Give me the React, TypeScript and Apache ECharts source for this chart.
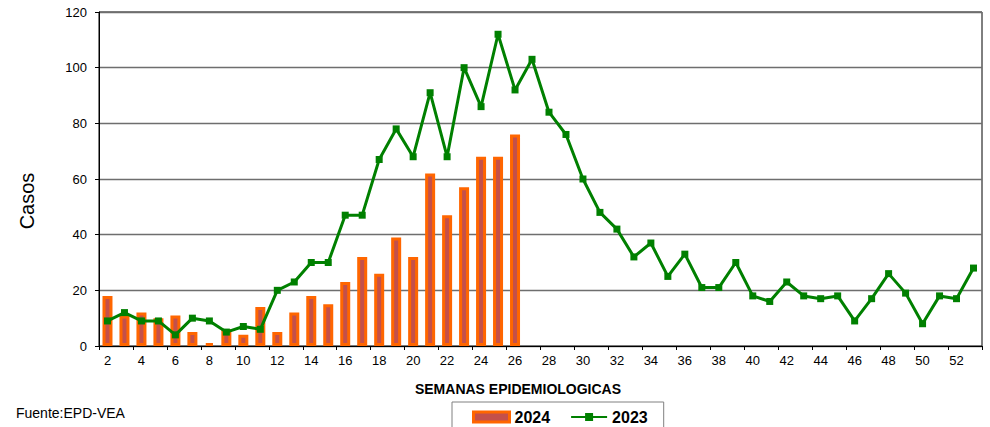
import React, { useEffect, useRef } from "react";
import * as echarts from "echarts";

const weeks = [
  "2", "3", "4", "5", "6", "7", "8", "9", "10", "11", "12", "13", "14", "15", "16", "17", "18",
  "19", "20", "21", "22", "23", "24", "25", "26", "27", "28", "29", "30", "31", "32", "33", "34",
  "35", "36", "37", "38", "39", "40", "41", "42", "43", "44", "45", "46", "47", "48", "49", "50",
  "51", "52", "53",
];

const cases2024 = [
  18, 11, 12, 10, 11, 5, 1, 6, 4, 14, 5, 12, 18, 15, 23, 32, 26, 39, 32, 62, 47, 57, 68, 68, 76,
];

const cases2023 = [
  9, 12, 9, 9, 4, 10, 9, 5, 7, 6, 20, 23, 30, 30, 47, 47, 67, 78, 68, 91, 68, 100, 86, 112, 92,
  103, 84, 76, 60, 48, 42, 32, 37, 25, 33, 21, 21, 30, 18, 16, 23, 18, 17, 18, 9, 17, 26, 19, 8,
  18, 17, 28,
];

const yMin = 0;
const yMax = 120;
const yStep = 20;

const FONT = "'Liberation Sans', Arial, sans-serif";

export default function App() {
  const ref = useRef<HTMLDivElement>(null);

  useEffect(() => {
    if (!ref.current) return;
    const chart = echarts.init(ref.current, undefined, { renderer: "svg" });
    chart.setOption({
      animation: false,
      backgroundColor: "#ffffff",
      textStyle: { fontFamily: FONT },
      grid: {
        left: 99,
        right: 8,
        top: 12,
        bottom: 81,
        show: true,
        borderColor: "#000000",
        borderWidth: 1,
        containLabel: false,
      },
      legend: {
        left: 452,
        top: 402,
        orient: "horizontal",
        selectedMode: false,
        itemGap: 20,
        itemWidth: 36,
        itemHeight: 10,
        padding: [7, 16, 30, 20],
        borderColor: "#808080",
        borderWidth: 1,
        textStyle: { fontFamily: FONT, fontSize: 16, fontWeight: "bold", color: "#000" },
        data: [
          {
            name: "2024",
            icon: "rect",
            itemStyle: { color: "#C4504A", borderColor: "#FF6600", borderWidth: 3 },
          },
          { name: "2023" },
        ],
      },
      xAxis: {
        type: "category",
        data: weeks,
        boundaryGap: true,
        axisLine: { show: true, lineStyle: { color: "#000", width: 1 } },
        axisTick: { show: true, interval: 1, length: 4, inside: false, lineStyle: { color: "#000" } },
        axisLabel: { interval: 1, fontSize: 13, color: "#000", margin: 8, fontFamily: FONT },
        splitLine: { show: false },
      },
      yAxis: {
        type: "value",
        min: yMin,
        max: yMax,
        interval: yStep,
        axisLine: { show: true, lineStyle: { color: "#000", width: 1 } },
        axisTick: { show: true, length: 4, inside: false, lineStyle: { color: "#000" } },
        axisLabel: { fontSize: 13, color: "#000", margin: 12, fontFamily: FONT },
        splitLine: { show: true, lineStyle: { color: "#6e6e6e", width: 1.3 } },
      },
      series: [
        {
          name: "2024",
          type: "bar",
          data: cases2024,
          barWidth: 10,
          itemStyle: { color: "#C4504A", borderColor: "#FF6600", borderWidth: 3 },
          z: 2,
        },
        {
          name: "2023",
          type: "line",
          data: cases2023,
          symbol: "rect",
          symbolSize: 7,
          lineStyle: { color: "#008000", width: 3 },
          itemStyle: { color: "#008000" },
          z: 3,
        },
      ],
      graphic: [
        {
          type: "text",
          x: 27,
          y: 201,
          rotation: Math.PI / 2,
          style: {
            text: "Casos",
            font: `20px ${FONT}`,
            fill: "#000",
            textAlign: "center",
            textVerticalAlign: "middle",
          },
        },
        {
          type: "text",
          x: 518,
          y: 389,
          style: {
            text: "SEMANAS EPIDEMIOLOGICAS",
            font: `bold 14px ${FONT}`,
            fill: "#000",
            textAlign: "center",
            textVerticalAlign: "middle",
          },
        },
        {
          type: "text",
          x: 16,
          y: 413,
          style: {
            text: "Fuente:EPD-VEA",
            font: `14px ${FONT}`,
            fill: "#000",
            textAlign: "left",
            textVerticalAlign: "middle",
          },
        },
      ],
    });
    return () => chart.dispose();
  }, []);

  return (
    <div
      ref={ref}
      style={{ position: "fixed", left: 0, top: 0, width: 990, height: 427, background: "#fff" }}
    />
  );
}
